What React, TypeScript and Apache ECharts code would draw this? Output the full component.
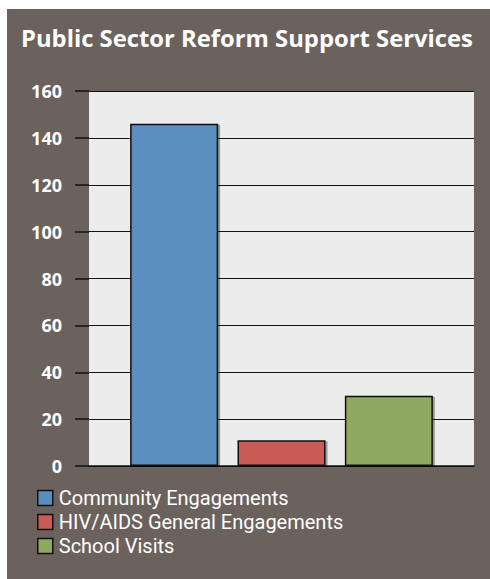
import React, { useEffect, useRef } from "react";
import * as echarts from "echarts";

const categories = ["Services"];
const seriesNames = ["Community Engagements", "HIV/AIDS General Engagements", "School Visits"];
const seriesValues = [146, 11, 30];
const seriesColors = ["#5b8ec0", "#c95a55", "#8eaa5e"];
const yTicks = [0, 20, 40, 60, 80, 100, 120, 140, 160];

export default function App() {
  const ref = useRef<HTMLDivElement>(null);
  useEffect(() => {
    const chart = echarts.init(ref.current!, null, { renderer: "svg" });
    chart.setOption({
      animation: false,
      backgroundColor: "#ffffff",
      graphic: [
        { type: "rect", z: -10, shape: { x: 7, y: 9, width: 483, height: 570 }, style: { fill: "#6b625e" } },
      ],
      title: {
        text: "Public Sector Reform Support Services",
        left: 21,
        top: 26,
        padding: 0,
        textStyle: { color: "#ffffff", fontSize: 23.8, fontWeight: "bold", fontFamily: "Open Sans" },
      },
      legend: {
        orient: "vertical",
        left: 37,
        top: 488,
        padding: 0,
        itemWidth: 15,
        itemHeight: 15,
        itemGap: 4,
        icon: "rect",
        data: seriesNames,
        itemStyle: { borderColor: "#111111", borderWidth: 1.5, shadowBlur: 0, shadowOffsetX: 0, shadowOffsetY: 0, shadowColor: "rgba(0,0,0,0)" },
        textStyle: { color: "#ffffff", fontSize: 20, lineHeight: 20, fontFamily: "Roboto", padding: [0, 0, 0, 1] },
      },
      grid: {
        left: 89,
        right: 16,
        top: 91,
        bottom: 113,
        show: true,
        backgroundColor: "#ebeceb",
        borderWidth: 0,
      },
      xAxis: {
        type: "category",
        data: categories,
        axisLine: { show: true, lineStyle: { color: "#111111", width: 1.5 } },
        axisTick: { show: false },
        axisLabel: { show: false },
      },
      yAxis: {
        type: "value",
        min: yTicks[0],
        max: yTicks[yTicks.length - 1],
        interval: 20,
        axisLine: { show: false },
        axisTick: { show: true, length: 14, lineStyle: { color: "#111111", width: 1.5 } },
        splitLine: { show: true, lineStyle: { color: "#111111", width: 1.2 } },
        axisLabel: { color: "#ffffff", fontSize: 18, fontWeight: "bold", fontFamily: "Open Sans", margin: 27 },
      },
      series: seriesNames.map((name, i) => ({
        name,
        type: "bar",
        data: [seriesValues[i]],
        barWidth: 88,
        barGap: "22%",
        itemStyle: {
          color: seriesColors[i],
          borderColor: "#111111",
          borderWidth: 1.5,
          shadowColor: "rgba(0,0,0,0.35)",
          shadowOffsetX: 2,
          shadowOffsetY: 1,
          shadowBlur: 1,
        },
      })),
    });
    return () => chart.dispose();
  }, []);
  return <div ref={ref} style={{ position: "absolute", left: 0, top: 0, width: 490, height: 579 }} />;
}
